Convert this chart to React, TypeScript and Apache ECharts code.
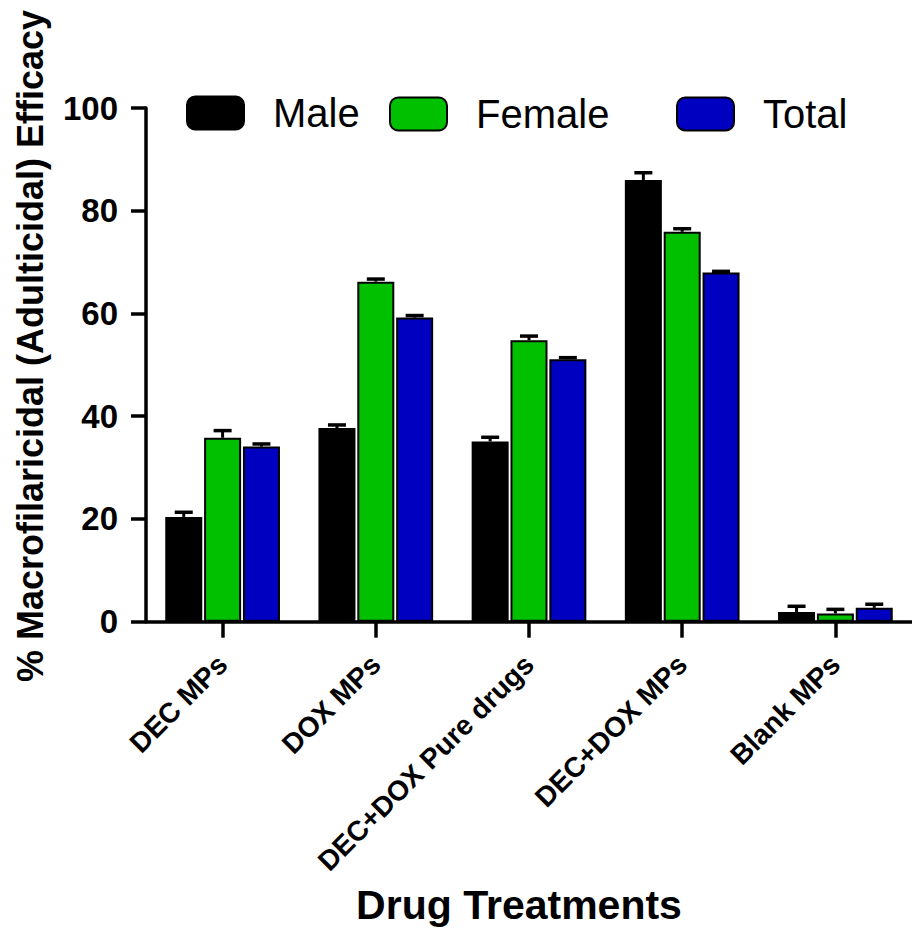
import React, { useEffect, useRef } from "react";
import * as echarts from "echarts";

const categories = ["DEC MPs", "DOX MPs", "DEC+DOX Pure drugs", "DEC+DOX MPs", "Blank MPs"];
const seriesNames = ["Male", "Female", "Total"];
const maleValues = [20.4, 37.7, 35.1, 86.0, 1.9];
const femaleValues = [35.8, 66.2, 54.8, 75.9, 1.6];
const totalValues = [34.1, 59.2, 51.1, 68.0, 2.7];
const maleErrors = [0.9, 0.6, 0.8, 1.4, 1.1];
const femaleErrors = [1.4, 0.5, 0.8, 0.6, 0.8];
const totalErrors = [0.5, 0.4, 0.3, 0.2, 0.7];
const colors = ["#000000", "#00c000", "#0000c0"];
const yTicks = [0, 20, 40, 60, 80, 100];

const FONT = "Liberation Sans, Arial, sans-serif";

export default function App() {
  const ref = useRef<HTMLDivElement>(null);
  useEffect(() => {
    if (!ref.current) return;
    const chart = echarts.init(ref.current, null, { renderer: "svg" });
    const values = [maleValues, femaleValues, totalValues];
    const errors = [maleErrors, femaleErrors, totalErrors];
    const barWidth = 37;
    const gapPx = barWidth * 0.05;

    const barSeries = seriesNames.map((name, s) => ({
      name,
      type: "bar",
      data: values[s],
      barWidth,
      barGap: "5%",
      itemStyle: { color: colors[s], borderColor: "#000", borderWidth: 2 },
      z: 2,
    }));

    const errSeries = seriesNames.map((name, s) => ({
      name: name + " SEM",
      type: "custom",
      z: 5,
      data: values[s].map((v, i) => [i, v, errors[s][i]]),
      renderItem: (params: any, api: any) => {
        const ci = api.value(0);
        const v = api.value(1);
        const e = api.value(2);
        const base = api.coord([ci, v]);
        const top = api.coord([ci, v + e]);
        const x = base[0] + (s - 1) * (barWidth + gapPx);
        return {
          type: "group",
          children: [
            { type: "line", shape: { x1: x, y1: base[1], x2: x, y2: top[1] }, style: { stroke: "#000", lineWidth: 3 } },
            { type: "line", shape: { x1: x - 9, y1: top[1], x2: x + 9, y2: top[1] }, style: { stroke: "#000", lineWidth: 3.5 } },
          ],
        };
      },
    }));

    const legendBase = {
      orient: "horizontal",
      itemWidth: 57,
      itemHeight: 33,
      icon: "roundRect",
      padding: 0,
      selectedMode: false,
      textStyle: { fontSize: 40, fontFamily: FONT, color: "#000", padding: [0, 0, 0, 24] },
    };

    chart.setOption({
      animation: false,
      backgroundColor: "#fff",
      grid: { left: 146, top: 108, width: 768, height: 513.7, containLabel: false },
      legend: [
        { ...legendBase, data: [seriesNames[0]], left: 186, top: 93 },
        { ...legendBase, data: [seriesNames[1]], left: 389, top: 94 },
        { ...legendBase, data: [seriesNames[2]], left: 676, top: 94 },
      ],
      xAxis: {
        type: "category",
        data: categories,
        axisLine: { show: true, lineStyle: { color: "#000", width: 3.5 } },
        axisTick: { show: true, alignWithLabel: true, length: 16, lineStyle: { color: "#000", width: 3.5 } },
        axisLabel: {
          interval: 0,
          rotate: 45,
          margin: 38,
          fontSize: 28,
          fontWeight: "bold",
          fontFamily: FONT,
          color: "#000",
        },
      },
      yAxis: {
        type: "value",
        min: yTicks[0],
        max: yTicks[yTicks.length - 1],
        interval: 20,
        splitLine: { show: false },
        axisLine: { show: true, lineStyle: { color: "#000", width: 3.5 } },
        axisTick: { show: true, length: 15, lineStyle: { color: "#000", width: 3.5 } },
        axisLabel: { margin: 28, fontSize: 33, fontWeight: "bold", fontFamily: FONT, color: "#000" },
      },
      graphic: [
        {
          type: "text",
          x: 30,
          y: 346,
          rotation: Math.PI / 2,
          style: {
            text: "% Macrofilaricidal (Adulticidal) Efficacy",
            font: "bold 36px " + FONT,
            fill: "#000",
            textAlign: "center",
            textVerticalAlign: "middle",
          },
        },
        {
          type: "text",
          x: 519,
          y: 905,
          style: {
            text: "Drug Treatments",
            font: "bold 41px " + FONT,
            fill: "#000",
            textAlign: "center",
            textVerticalAlign: "middle",
          },
        },
      ],
      series: [...barSeries, ...errSeries],
    });
    return () => chart.dispose();
  }, []);
  return <div ref={ref} style={{ position: "absolute", left: 0, top: 0, width: 912, height: 931 }} />;
}
